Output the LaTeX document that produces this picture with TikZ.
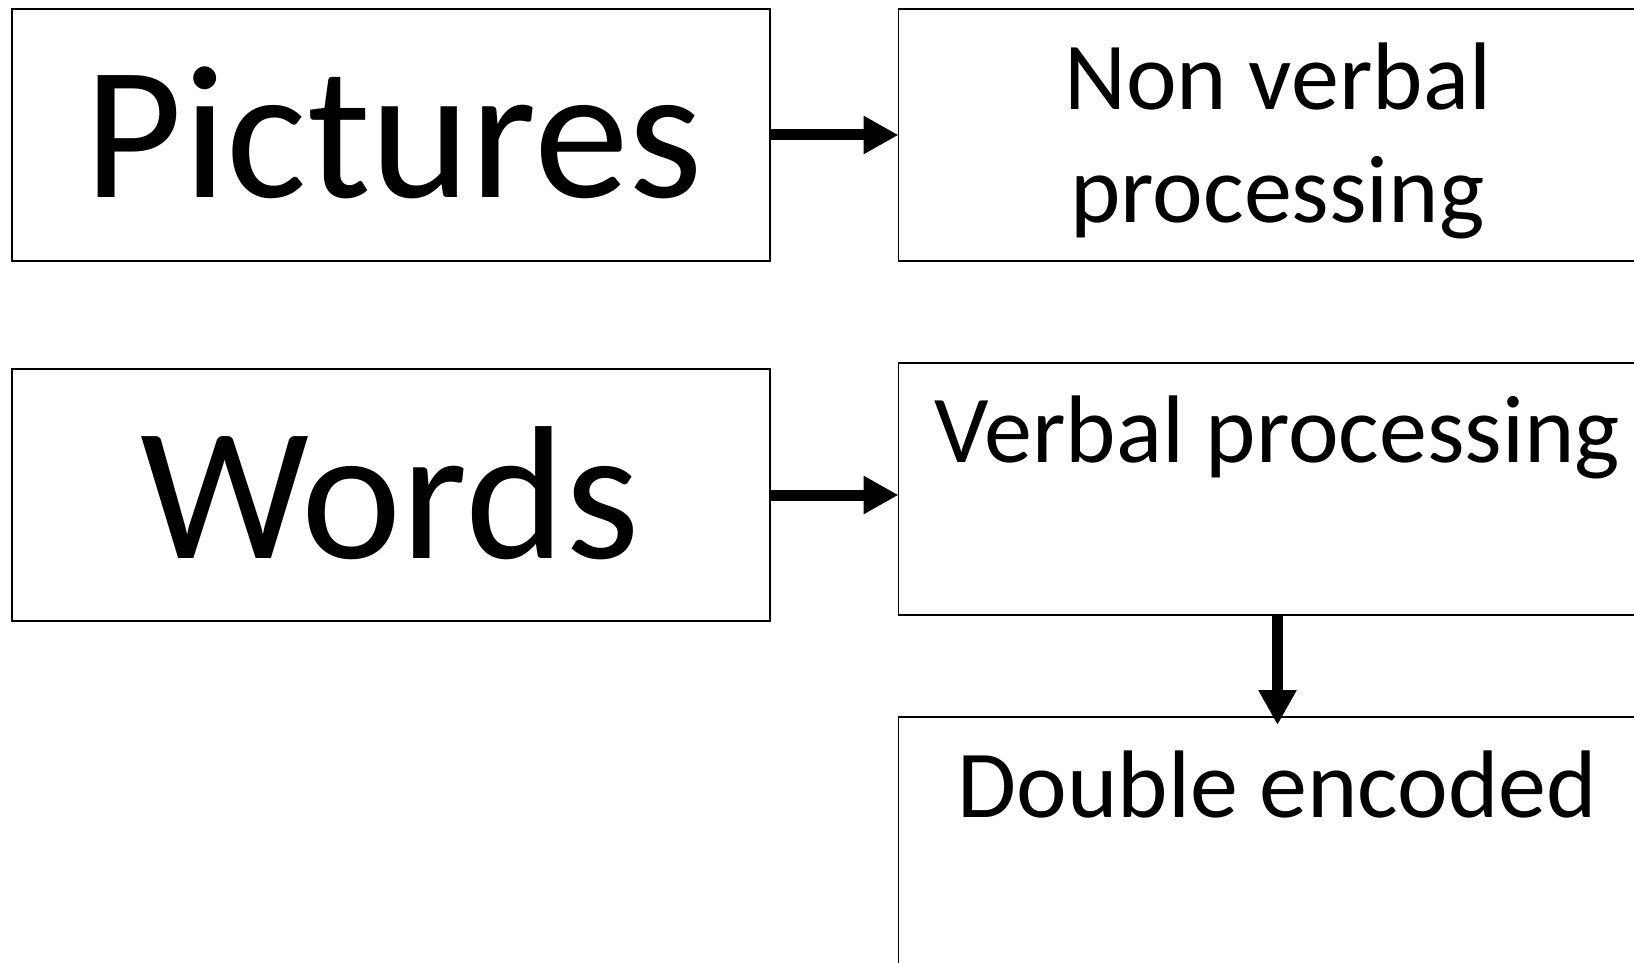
\documentclass[tikz,border=0pt]{standalone}
\usepackage{fontspec}
\setmainfont{Carlito}
\usetikzlibrary{arrows.meta,calc}
\tikzstyle{box} = [rectangle, draw, line width=0.65pt, inner sep=0pt, outer sep=0pt, minimum width=379pt, minimum height=126pt]
\tikzstyle{bigword} = [anchor=base, inner sep=0pt, font=\fontsize{95}{114}\selectfont]
\tikzstyle{boxtext} = [anchor=base, inner sep=0pt, align=center, font=\fontsize{48}{56.5}\selectfont]
\tikzstyle{connector} = [line width=5.5pt, -{Triangle[length=17.5pt,width=18pt]}]
\begin{document}
\begin{tikzpicture}[x=0.5pt,y=-0.5pt]
    \useasboundingbox (0,0) rectangle (1634,963);
    \node (pictures) [box] at (391,135) {};
    \node (words) [box] at (391,495) {};
    \node (nonverbal) [box] at (1277.5,135) {};
    \node (verbal) [box] at (1277.5,489) {};
    \node (double) [box] at (1277.5,843) {};
    \node (picturestext) [bigword] at ($(pictures.center)+(3,63)$) {Pictures};
    \node (wordstext) [bigword] at ($(words.center)+(-1,63)$) {Words};
    \node (nonverbaltext) [boxtext] at ($(nonverbal.north)+(0,213)$) {Non verbal\\processing};
    \node (verbaltext) [boxtext] at ($(verbal.north)+(0,99)$) {Verbal processing};
    \node (doubletext) [boxtext] at ($(double.north)+(0,100)$) {Double encoded};
    \draw [connector] (pictures.east) -- (nonverbal.west);
    \draw [connector] (words.east) -- (words.east -| verbal.west);
    \draw [connector] (verbal.south) -- ($(double.north)+(0,8)$);
\end{tikzpicture}
\end{document}
